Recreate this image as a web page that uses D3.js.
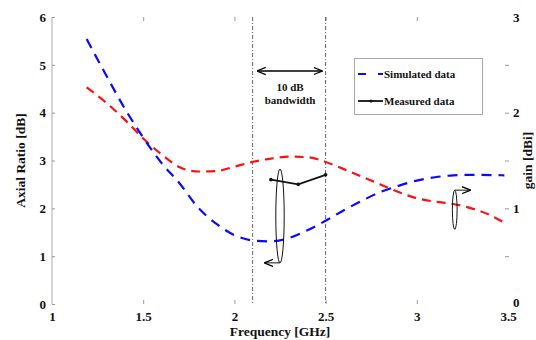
<!DOCTYPE html>
<html>
<head>
<meta charset="utf-8">
<script src="https://cdn.jsdelivr.net/npm/d3@7"></script>
<style>
  html, body { margin: 0; padding: 0; background: #fff; }
  svg { display: block; }
  svg text { font-family: "Liberation Serif", "Times New Roman", Times, serif !important; font-weight: bold; fill: #111; }
</style>
</head>
<body>
<svg id="chart" width="536" height="340"></svg>
<script>
// Frequency axis (GHz) and value axes
const freqTicks = [1, 1.5, 2, 2.5, 3, 3.5];
const arTicks = [0, 1, 2, 3, 4, 5, 6];
const gainTicks = [0, 0.5, 1, 1.5, 2, 2.5, 3];
const gainLabels = ["0", "", "1", "", "2", "", "3"];

// Simulated axial ratio [dB]
const simARFreq = [1.19, 1.3, 1.4, 1.5, 1.6, 1.7, 1.8, 1.9, 2.0, 2.1, 2.2, 2.3, 2.4, 2.5, 2.6, 2.7, 2.8, 2.9, 3.0, 3.1, 3.2, 3.3, 3.48];
const simARValue = [5.54, 4.76, 4.08, 3.48, 2.95, 2.52, 2.02, 1.68, 1.44, 1.33, 1.31, 1.38, 1.54, 1.74, 1.96, 2.16, 2.34, 2.47, 2.58, 2.65, 2.69, 2.70, 2.69];

// Simulated gain [dBi]
const simGainFreq = [1.19, 1.3, 1.4, 1.5, 1.6, 1.7, 1.8, 1.9, 2.0, 2.1, 2.2, 2.3, 2.4, 2.5, 2.6, 2.7, 2.8, 2.9, 3.0, 3.1, 3.2, 3.3, 3.4, 3.47];
const simGainValue = [2.265, 2.10, 1.925, 1.73, 1.565, 1.43, 1.385, 1.39, 1.435, 1.485, 1.52, 1.54, 1.535, 1.485, 1.41, 1.33, 1.25, 1.17, 1.105, 1.07, 1.045, 1.0, 0.93, 0.86];

// Measured axial ratio [dB]
const measFreq = [2.2, 2.35, 2.5];
const measValue = [2.6, 2.5, 2.7];

// 10 dB bandwidth limits (GHz)
const bandEdges = [2.1, 2.5];

// Axis-grouping ellipses: centre and radii in data units, pointer direction
const groupMarks = [
  { f: 2.25, v: 1.84, rf: 0.023, rv: 0.98, arrowAt: "bottom", dir: -1 },
  { f: 3.208, v: 1.97, rf: 0.013, rv: 0.41, arrowAt: "top", dir: 1 }
];

const svg = d3.select("#chart");
const margin = { left: 52, right: 28, top: 17, bottom: 36 };
const W = 536, H = 340;

const x = d3.scaleLinear().domain([1, 3.5]).range([margin.left, W - margin.right]);
const yL = d3.scaleLinear().domain([0, 6]).range([H - margin.bottom, margin.top]);
const yR = d3.scaleLinear().domain([0, 3]).range([H - margin.bottom, margin.top]);

const tickGray = "#999";

// Left axis line
svg.append("line")
  .attr("x1", x(1)).attr("x2", x(1))
  .attr("y1", yL(0)).attr("y2", yL(6))
  .attr("stroke", "#aaa").attr("stroke-width", 1);

// Left axis
const gL = svg.append("g").attr("transform", `translate(${x(1)},0)`)
  .call(d3.axisLeft(yL).tickValues(arTicks).tickFormat(d3.format("d")).tickSize(-3).tickPadding(6));
gL.select(".domain").remove();
gL.selectAll(".tick line").attr("stroke", tickGray);
gL.selectAll(".tick text").attr("font-size", 13);

// Right axis
const gR = svg.append("g").attr("transform", `translate(${x(3.5)},0)`)
  .call(d3.axisRight(yR).tickValues(gainTicks).tickFormat((d, i) => gainLabels[i]).tickSize(0).tickPadding(5));
gR.select(".domain").remove();
gR.selectAll(".tick text").attr("font-size", 13);
gR.selectAll(".tick").filter(d => d === 0).select("text").attr("dy", "0.2em");
gR.selectAll(".tick").filter(d => d > 0 && d < 3).append("line")
  .attr("x1", -3).attr("x2", 1).attr("stroke", tickGray);

// Bottom axis
const gB = svg.append("g").attr("transform", `translate(0,${yL(0)})`)
  .call(d3.axisBottom(x).tickValues(freqTicks).tickFormat(d => String(d)).tickSize(-4).tickPadding(8));
gB.select(".domain").remove();
gB.selectAll(".tick line").attr("stroke", tickGray).filter(d => d === 1 || d === 3.5).remove();
gB.selectAll(".tick text").attr("font-size", 13);

// Top ticks
const gT = svg.append("g").attr("transform", `translate(0,${yL(6)})`)
  .call(d3.axisTop(x).tickValues(freqTicks.filter(d => d > 1 && d < 3.5)).tickFormat("").tickSize(-4));
gT.select(".domain").remove();
gT.selectAll(".tick line").attr("stroke", tickGray);

// Axis titles
svg.append("text")
  .attr("transform", `translate(25,${(yL(0) + yL(6)) / 2}) rotate(-90)`)
  .attr("text-anchor", "middle").attr("font-size", 13.5)
  .text("Axial Ratio [dB]");
svg.append("text")
  .attr("x", (x(1) + x(3.5)) / 2).attr("y", 336)
  .attr("text-anchor", "middle").attr("font-size", 13.5)
  .text("Frequency [GHz]");
svg.append("text")
  .attr("transform", `translate(532,${(yL(0) + yL(6)) / 2}) rotate(-90)`)
  .attr("text-anchor", "middle").attr("font-size", 13.5)
  .text("gain [dBi]");

// Bandwidth limit lines
svg.selectAll(".band").data(bandEdges).enter().append("line")
  .attr("x1", d => x(d)).attr("x2", d => x(d))
  .attr("y1", yL(6)).attr("y2", yL(0))
  .attr("stroke", "#555").attr("stroke-width", 0.9)
  .attr("stroke-dasharray", "4,2,1,2");

// Arrow markers
const defs = svg.append("defs");
defs.append("marker").attr("id", "ah").attr("viewBox", "0 0 10 10")
  .attr("refX", 9).attr("refY", 5).attr("markerWidth", 9).attr("markerHeight", 9)
  .attr("markerUnits", "userSpaceOnUse").attr("orient", "auto-start-reverse")
  .append("path").attr("d", "M0,1 L10,5 L0,9").attr("fill", "none").attr("stroke", "#000").attr("stroke-width", 1.4);

// Double arrow spanning the bandwidth
svg.append("line")
  .attr("x1", x(bandEdges[0]) + 5).attr("x2", x(bandEdges[1]) - 4)
  .attr("y1", 71).attr("y2", 71)
  .attr("stroke", "#000").attr("stroke-width", 1.3)
  .attr("marker-start", "url(#ah)").attr("marker-end", "url(#ah)");
const bandMid = (x(bandEdges[0]) + x(bandEdges[1])) / 2 + 1;
svg.append("text").attr("x", bandMid).attr("y", 91)
  .attr("text-anchor", "middle").attr("font-size", 11).text("10 dB");
svg.append("text").attr("x", bandMid).attr("y", 104)
  .attr("text-anchor", "middle").attr("font-size", 11).text("bandwidth");

// Curves
const lineAR = d3.line().x(d => x(d[0])).y(d => yL(d[1])).curve(d3.curveMonotoneX);
const lineGain = d3.line().x(d => x(d[0])).y(d => yR(d[1])).curve(d3.curveMonotoneX);

svg.append("path")
  .datum(d3.zip(simGainFreq, simGainValue))
  .attr("d", lineGain).attr("fill", "none")
  .attr("stroke", "#ff1010").attr("stroke-width", 2.2).attr("stroke-dasharray", "9,6");

svg.append("path")
  .datum(d3.zip(simARFreq, simARValue))
  .attr("d", lineAR).attr("fill", "none")
  .attr("stroke", "#0a0aff").attr("stroke-width", 2.2).attr("stroke-dasharray", "10,7");

const meas = d3.zip(measFreq, measValue);
svg.append("path").datum(meas)
  .attr("d", d3.line().x(d => x(d[0])).y(d => yL(d[1])))
  .attr("fill", "none").attr("stroke", "#111").attr("stroke-width", 1.8);
svg.selectAll(".mpt").data(meas).enter().append("circle")
  .attr("cx", d => x(d[0])).attr("cy", d => yL(d[1])).attr("r", 1.8).attr("fill", "#111");

// Grouping ellipses with pointers toward their axes
groupMarks.forEach(g => {
  const cx = x(g.f), cy = yL(g.v);
  const rx = x(g.f + g.rf) - cx, ry = yL(g.v) - yL(g.v + g.rv);
  svg.append("ellipse").attr("cx", cx).attr("cy", cy).attr("rx", rx).attr("ry", ry)
    .attr("fill", "none").attr("stroke", "#111").attr("stroke-width", 1);
  const ay = g.arrowAt === "bottom" ? cy + ry : cy - ry;
  svg.append("line").attr("x1", cx).attr("x2", cx + g.dir * 15)
    .attr("y1", ay).attr("y2", ay)
    .attr("stroke", "#111").attr("stroke-width", 1)
    .attr("marker-end", "url(#ah)");
});

// Legend
const lg = svg.append("g");
lg.append("rect").attr("x", 354.5).attr("y", 58.5).attr("width", 128).attr("height", 56)
  .attr("fill", "#fff").attr("stroke", "#aaa").attr("stroke-width", 1);
lg.append("line").attr("x1", 358).attr("x2", 383).attr("y1", 74).attr("y2", 74)
  .attr("stroke", "#0a0aff").attr("stroke-width", 2.2).attr("stroke-dasharray", "8,12,5");
lg.append("text").attr("x", 384).attr("y", 77.5).attr("font-size", 11).text("Simulated data");
lg.append("line").attr("x1", 358).attr("x2", 383).attr("y1", 101).attr("y2", 101)
  .attr("stroke", "#111").attr("stroke-width", 1.8);
lg.append("circle").attr("cx", 371).attr("cy", 101).attr("r", 1.6).attr("fill", "#111");
lg.append("text").attr("x", 384).attr("y", 104.5).attr("font-size", 11).text("Measured data");
</script>
</body>
</html>
